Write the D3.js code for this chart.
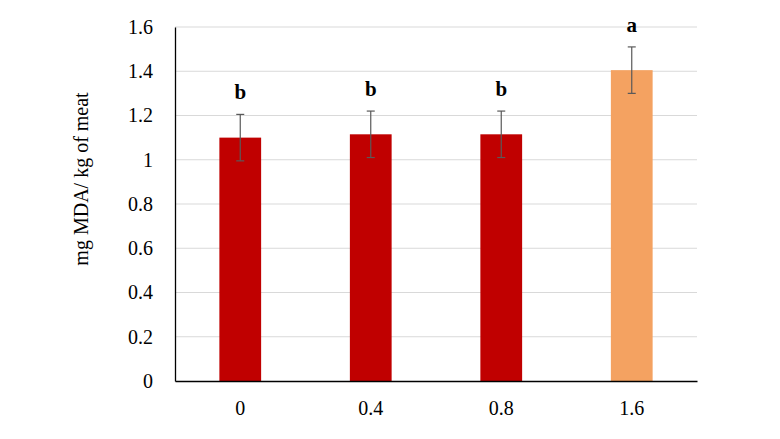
<!DOCTYPE html>
<html>
<head>
<meta charset="utf-8">
<script src="https://cdn.jsdelivr.net/npm/d3@7"></script>
<style>
  body { margin: 0; background: #fff; }
  text { font-family: "Liberation Serif", "Times New Roman", serif; }
</style>
</head>
<body>
<svg id="chart" width="780" height="439"></svg>
<script>
const categories = ["0", "0.4", "0.8", "1.6"];
const values = [1.1, 1.115, 1.115, 1.405];
const errors = [0.105, 0.105, 0.105, 0.105];
const letters = ["b", "b", "b", "a"];
const yTicks = [0, 0.2, 0.4, 0.6, 0.8, 1, 1.2, 1.4, 1.6];
const barColors = ["#c00000", "#c00000", "#c00000", "#f4a261"];

const svg = d3.select("#chart");
const margin = { top: 27, right: 83, bottom: 58, left: 175 };
const width = +svg.attr("width");
const height = +svg.attr("height");

const x = d3.scaleBand()
  .domain(categories)
  .range([margin.left, width - margin.right])
  .paddingInner(0.68)
  .paddingOuter(0.34);

const y = d3.scaleLinear()
  .domain([0, 1.6])
  .range([height - margin.bottom, margin.top]);

// Grid lines
svg.append("g")
  .selectAll("line")
  .data(yTicks.slice(1))
  .join("line")
  .attr("x1", margin.left)
  .attr("x2", width - margin.right)
  .attr("y1", d => y(d))
  .attr("y2", d => y(d))
  .attr("stroke", "#d9d9d9");

// Bars
svg.append("g")
  .selectAll("rect")
  .data(values)
  .join("rect")
  .attr("x", (d, i) => x(categories[i]))
  .attr("y", d => y(d))
  .attr("width", x.bandwidth())
  .attr("height", d => y(0) - y(d))
  .attr("fill", (d, i) => barColors[i]);

// Error bars
const err = svg.append("g").attr("stroke", "#595959").attr("stroke-width", 1.2);
values.forEach((v, i) => {
  const cx = x(categories[i]) + x.bandwidth() / 2;
  err.append("line").attr("x1", cx).attr("x2", cx)
    .attr("y1", y(v - errors[i])).attr("y2", y(v + errors[i]));
  [v - errors[i], v + errors[i]].forEach(e => {
    err.append("line").attr("x1", cx - 4).attr("x2", cx + 4)
      .attr("y1", y(e)).attr("y2", y(e));
  });
});

// Letters
svg.append("g")
  .selectAll("text")
  .data(letters)
  .join("text")
  .attr("x", (d, i) => x(categories[i]) + x.bandwidth() / 2)
  .attr("y", (d, i) => y(values[i] + errors[i]) - 15)
  .attr("text-anchor", "middle")
  .style("font-size", "21px")
  .style("font-weight", "bold")
  .text(d => d);

// Y Axis
const yAxis = svg.append("g")
  .attr("transform", `translate(${margin.left}, 0)`)
  .call(d3.axisLeft(y).tickValues(yTicks).tickSize(0).tickPadding(22).tickFormat(d3.format("")));
yAxis.select(".domain").attr("stroke", "#000").attr("stroke-width", 1.3);
yAxis.selectAll("text").style("font-size", "20px").style("font-family", "Liberation Serif").attr("fill", "#000");

// X Axis
const xAxis = svg.append("g")
  .attr("transform", `translate(0, ${y(0)})`)
  .call(d3.axisBottom(x).tickSize(0).tickPadding(20));
xAxis.select(".domain").attr("stroke", "#000").attr("stroke-width", 1.3);
xAxis.selectAll("text").style("font-size", "20px").style("font-family", "Liberation Serif").attr("fill", "#000");

// Axis label
svg.append("text")
  .attr("transform", "rotate(-90)")
  .attr("x", -(margin.top + (height - margin.bottom)) / 2 + 25)
  .attr("y", 88)
  .attr("text-anchor", "middle")
  .style("font-size", "20px")
  .text("mg MDA/ kg of meat");
</script>
</body>
</html>
